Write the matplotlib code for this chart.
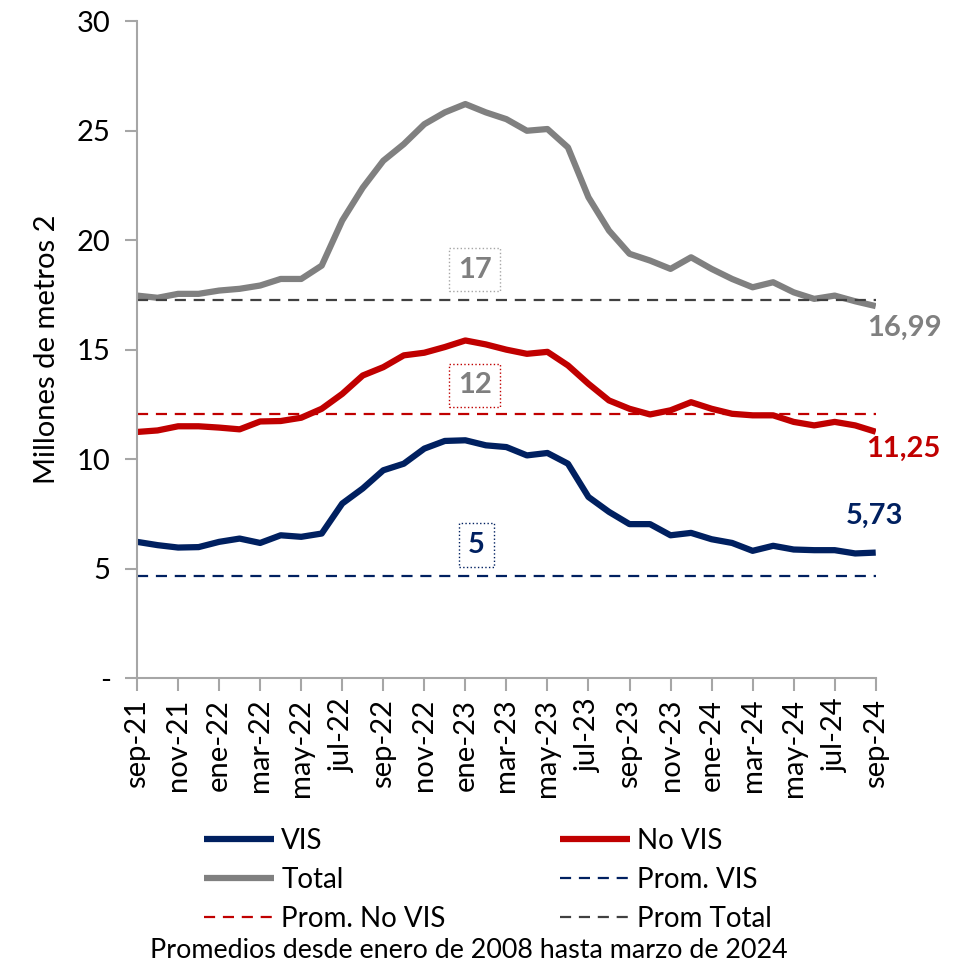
import matplotlib
matplotlib.use("Agg")
import matplotlib.pyplot as plt
import numpy as np

plt.rcParams['font.family'] = ['Lato', 'DejaVu Sans']

# meses sep-21 .. sep-24
meses = ['sep-21', 'oct-21', 'nov-21', 'dic-21', 'ene-22', 'feb-22', 'mar-22', 'abr-22',
         'may-22', 'jun-22', 'jul-22', 'ago-22', 'sep-22', 'oct-22', 'nov-22', 'dic-22',
         'ene-23', 'feb-23', 'mar-23', 'abr-23', 'may-23', 'jun-23', 'jul-23', 'ago-23',
         'sep-23', 'oct-23', 'nov-23', 'dic-23', 'ene-24', 'feb-24', 'mar-24', 'abr-24',
         'may-24', 'jun-24', 'jul-24', 'ago-24', 'sep-24']

vis = [6.22, 6.07, 5.96, 5.98, 6.22, 6.37, 6.17, 6.52, 6.45, 6.60, 7.97, 8.66,
       9.49, 9.79, 10.48, 10.83, 10.86, 10.63, 10.55, 10.17, 10.28, 9.79, 8.27, 7.59,
       7.03, 7.03, 6.52, 6.63, 6.34, 6.17, 5.81, 6.04, 5.87, 5.84, 5.84, 5.69, 5.73]

no_vis = [11.24, 11.31, 11.50, 11.50, 11.44, 11.36, 11.72, 11.74, 11.89, 12.30, 12.98, 13.82,
          14.20, 14.74, 14.86, 15.12, 15.42, 15.24, 15.00, 14.81, 14.90, 14.28, 13.44, 12.68,
          12.30, 12.04, 12.23, 12.60, 12.30, 12.07, 12.00, 12.00, 11.70, 11.54, 11.70, 11.54, 11.25]

total = [17.47, 17.37, 17.55, 17.55, 17.70, 17.78, 17.93, 18.23, 18.23, 18.84, 20.90, 22.40,
         23.63, 24.39, 25.30, 25.84, 26.22, 25.84, 25.53, 25.00, 25.08, 24.24, 21.96, 20.44,
         19.38, 19.07, 18.69, 19.22, 18.69, 18.23, 17.85, 18.08, 17.62, 17.32, 17.47, 17.21, 16.99]

prom_vis = 4.65
prom_no_vis = 12.07
prom_total = 17.27

c_vis = '#002060'
c_novis = '#C00000'
c_total = '#808080'
c_axis = '#A6A6A6'
fs = 21

x = np.arange(len(meses))

fig = plt.figure(figsize=(9.55, 9.69), dpi=100)
ax = fig.add_axes([0.1435, 0.3003, 0.7735, 0.6777])

l_vis, = ax.plot(x, vis, color=c_vis, lw=4.5, solid_capstyle='butt', solid_joinstyle='round', label='VIS')
l_novis, = ax.plot(x, no_vis, color=c_novis, lw=4.5, solid_capstyle='butt', solid_joinstyle='round', label='No VIS')
l_total, = ax.plot(x, total, color=c_total, lw=4.5, solid_capstyle='butt', solid_joinstyle='round', label='Total')

dash = (0, (5, 3.5))
p_vis, = ax.plot(x, [prom_vis] * len(x), color=c_vis, lw=1.6, ls=dash, label='Prom. VIS')
p_novis, = ax.plot(x, [prom_no_vis] * len(x), color=c_novis, lw=1.6, ls=dash, label='Prom. No VIS')
p_total, = ax.plot(x, [prom_total] * len(x), color='#404040', lw=1.6, ls=dash, label='Prom Total')

ax.set_xlim(0, len(x) - 1)
ax.set_ylim(0, 30)
ax.set_yticks([0, 5, 10, 15, 20, 25, 30])
ax.set_yticklabels(['-', '5', '10', '15', '20', '25', '30'])
ax.set_xticks(x[::2])
ax.set_xticklabels(meses[::2], rotation=90)

for s in ['top', 'right']:
    ax.spines[s].set_visible(False)
for s in ['left', 'bottom']:
    ax.spines[s].set_color(c_axis)
    ax.spines[s].set_linewidth(1.5)
ax.tick_params(axis='both', colors=c_axis, labelcolor='black', labelsize=fs,
               length=9, width=1.5, direction='out')
ax.tick_params(axis='y', pad=10)
ax.tick_params(axis='x', pad=6)
ax.set_ylabel('Millones de metros 2', fontsize=fs, labelpad=12)

# etiquetas de promedio
ax.text(16.46, 18.66, '17', fontsize=fs, fontweight='bold', color='#7F7F7F', ha='center', va='center',
        bbox=dict(boxstyle='square,pad=0.3', fc='white', ec='#A6A6A6', ls=':', lw=1))
ax.text(16.46, 13.37, '12', fontsize=fs, fontweight='bold', color='#7F7F7F', ha='center', va='center',
        bbox=dict(boxstyle='square,pad=0.3', fc='white', ec=c_novis, ls=':', lw=1))
ax.text(16.55, 6.07, '5', fontsize=fs, fontweight='bold', color=c_vis, ha='center', va='center',
        bbox=dict(boxstyle='square,pad=0.3', fc='white', ec=c_vis, ls=':', lw=1))

# etiquetas finales
ax.text(len(x) - 1 - 0.4, 16.0, '16,99', fontsize=fs, fontweight='bold', color=c_total, ha='left', va='center', clip_on=False)
ax.text(len(x) - 1 - 0.45, 10.45, '11,25', fontsize=fs, fontweight='bold', color=c_novis, ha='left', va='center', clip_on=False)
ax.text(len(x) - 1 - 1.45, 7.4, '5,73', fontsize=fs, fontweight='bold', color=c_vis, ha='left', va='center', clip_on=False)

handles = [l_vis, l_total, p_novis, l_novis, p_vis, p_total]
fig.legend(handles=handles, labels=[h.get_label() for h in handles], ncol=2,
           loc='upper left', bbox_to_anchor=(0.214, 0.146), frameon=False, fontsize=20,
           handlelength=2.52, handletextpad=0.25, columnspacing=4.1, labelspacing=0.48,
           borderaxespad=0, borderpad=0)

fig.text(0.491, 0.019, 'Promedios desde enero de 2008 hasta marzo de 2024', fontsize=19.4,
         ha='center', va='center')

fig.savefig('out.png', dpi=100)
